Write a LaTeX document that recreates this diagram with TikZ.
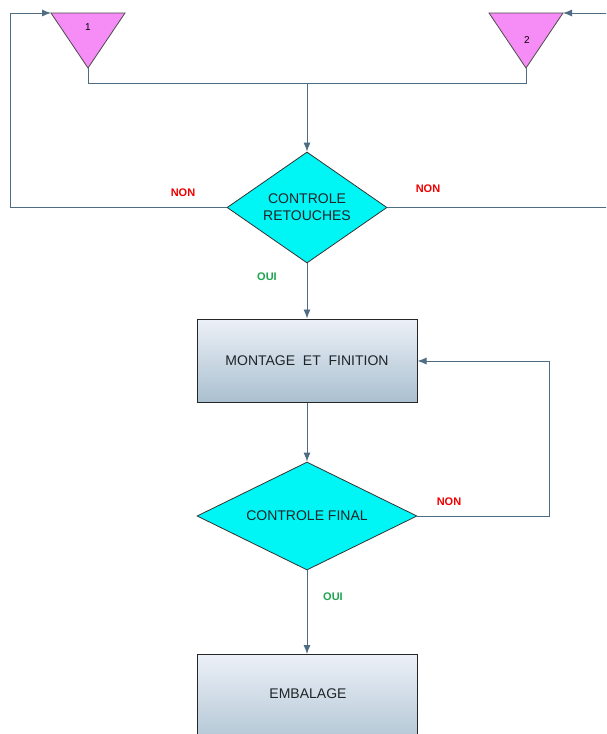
\documentclass[tikz,border=0pt]{standalone}
\usepackage{fontspec}
\setmainfont{Liberation Sans}
\usetikzlibrary{shapes.geometric,arrows.meta}
\definecolor{linec}{RGB}{78,108,132}
\definecolor{trifill}{RGB}{246,140,246}
\definecolor{diafill}{RGB}{0,245,245}
\definecolor{boxtop}{RGB}{236,240,247}
\definecolor{boxbot}{RGB}{170,192,208}
\definecolor{txt}{RGB}{30,36,40}
\definecolor{nonred}{RGB}{240,0,0}
\definecolor{ouigreen}{RGB}{30,165,80}
\tikzset{
  conn/.style={draw=linec, line width=0.9pt},
  arr/.style={conn, -{Latex[length=9pt,width=7pt]}},
  tri/.style={fill=trifill, draw=black!70, line width=0.8pt, line join=miter},
  decision/.style={diamond, draw=black!80, fill=diafill, line width=0.8pt, inner sep=0pt,
     text=txt, font=\fontsize{14}{17}\selectfont, align=center},
  process/.style={rectangle, draw=black!85, line width=1pt, top color=boxtop, bottom color=boxbot,
     minimum width=220pt, text=txt, font=\fontsize{14}{17}\selectfont, inner sep=0pt},
  non/.style={text=nonred, font=\bfseries\fontsize{11}{13}\selectfont},
  oui/.style={text=ouigreen, font=\bfseries\fontsize{11}{13}\selectfont},
  num/.style={text=black, font=\fontsize{10}{12}\selectfont}
}
\begin{document}
\begin{tikzpicture}[x=1pt,y=-1pt]
\useasboundingbox (0,0) rectangle (606,734);
\clip (0,0) rectangle (606,734);
\fill[white] (0,0) rectangle (606,734);

% triangles
\coordinate (t1L) at (51,13); \coordinate (t1R) at (125,13); \coordinate (t1A) at (88,68);
\coordinate (t2L) at (489,13); \coordinate (t2R) at (563,13); \coordinate (t2A) at (526,68);
\path[tri] (t1L) -- (t1R) -- (t1A) -- cycle;
\path[tri] (t2L) -- (t2R) -- (t2A) -- cycle;
\node[num] (n1) at (88,27) {1};
\node[num] (n2) at (527,40) {2};

% decisions
\node[decision, aspect=1.44, minimum width=160pt, minimum height=111pt] (d1) at (307,207.5) {CONTROLE\\RETOUCHES};
\node[decision, aspect=2.04, minimum width=220pt, minimum height=108pt] (d2) at (307,516) {CONTROLE FINAL};

% processes
\node[process, minimum height=83pt] (b1) at (307,360.5) {MONTAGE\ \ ET\ \ FINITION};
\node[process, minimum height=100pt, anchor=north] (b2) at (307,654) {};
\node[text=txt, font=\fontsize{14}{17}\selectfont] (b2t) at (308,694) {EMBALAGE};

% junction
\coordinate (jL) at (88,83); \coordinate (jR) at (526,83); \coordinate (jM) at (307,83);
\draw[conn] (t1A) -- (jL) -- (jR) -- (t2A);
\draw[arr] (jM) -- (d1.north);

% NON left
\coordinate (cl1) at (10,207.5); \coordinate (cl2) at (10,13);
\draw[arr] (d1.west) -- (cl1) -- (cl2) -- (t1L);
% NON right
\coordinate (cr1) at (607,207.5); \coordinate (cr2) at (607,13);
\draw[conn] (d1.east) -- (cr1);
\draw[arr] (cr2) -- (t2R);

% main flow
\draw[arr] (d1.south) -- (b1.north);
\draw[arr] (b1.south) -- (d2.north);
\draw[arr] (d2.south) -- (b2.north);

% NON loop final
\coordinate (cf1) at (549,516); \coordinate (cf2) at (549,361);
\draw[arr] (d2.east) -- (cf1) -- (cf2) -- (b1.east |- cf2);

% labels
\node[non] (l1) at (183,193) {NON};
\node[non] (l2) at (428,189) {NON};
\node[oui] (l3) at (267,277) {OUI};
\node[non] (l4) at (449,502) {NON};
\node[oui] (l5) at (333,597) {OUI};
\end{tikzpicture}
\end{document}
